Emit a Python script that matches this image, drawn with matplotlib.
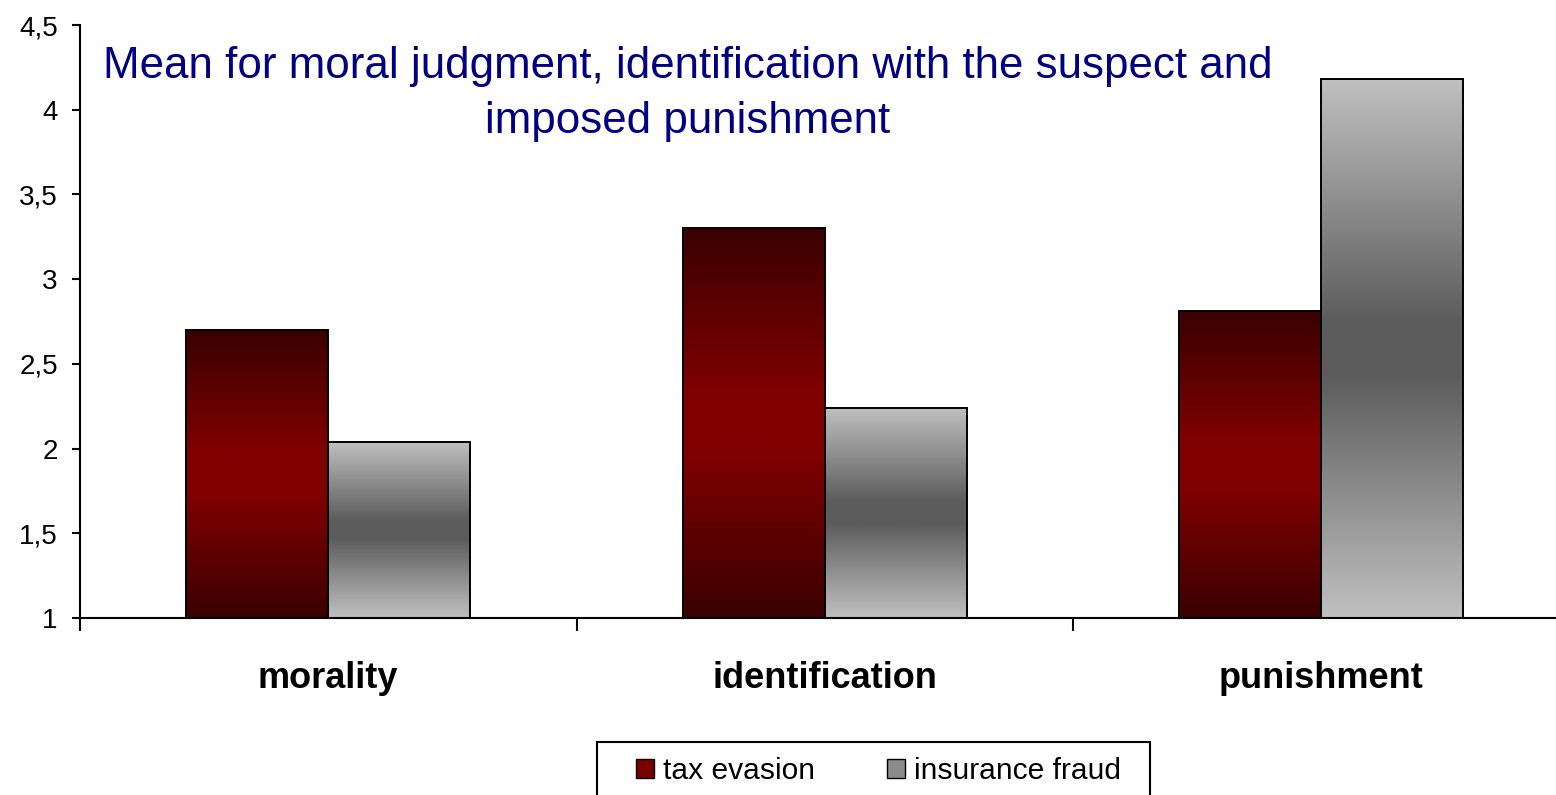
import numpy as np
import matplotlib.pyplot as plt
from matplotlib.colors import LinearSegmentedColormap
from matplotlib.patches import Patch, Rectangle
from matplotlib.ticker import FuncFormatter

categories = ["morality", "identification", "punishment"]
tax_evasion = [2.70, 3.30, 2.81]
insurance_fraud = [2.04, 2.24, 4.18]
series_names = ["tax evasion", "insurance fraud"]
y_ticks = [1, 1.5, 2, 2.5, 3, 3.5, 4, 4.5]
title = "Mean for moral judgment, identification with the suspect and\nimposed punishment"

plt.rcParams["font.family"] = ["Liberation Sans", "DejaVu Sans"]

# excel style "horizontal, centre" gradients
red_cmap = LinearSegmentedColormap.from_list(
    "red_grad", [(0, "#3a0000"), (0.42, "#800000"), (0.58, "#800000"), (1, "#3a0000")])
grey_cmap = LinearSegmentedColormap.from_list(
    "grey_grad", [(0, "#c0c0c0"), (0.45, "#5c5c5c"), (0.55, "#5c5c5c"), (1, "#c0c0c0")])
grad = np.linspace(0, 1, 256).reshape(-1, 1)

fig = plt.figure(figsize=(15.56, 7.95), dpi=100)
ax = fig.add_axes([80 / 1556, 1 - 618 / 795, 1489.5 / 1556, 593 / 795])

x = np.arange(len(categories)) + 0.5
w = 0.286
for vals, cmap, off in ((tax_evasion, red_cmap, -w), (insurance_fraud, grey_cmap, 0)):
    bars = ax.bar(x + off, np.array(vals) - 1, width=w, bottom=1, align="edge",
                  facecolor="none", edgecolor="black", linewidth=1.4, zorder=3)
    for b in bars:
        ax.imshow(grad, cmap=cmap, aspect="auto", zorder=2, interpolation="bilinear",
                  extent=[b.get_x(), b.get_x() + b.get_width(),
                          b.get_y(), b.get_y() + b.get_height()])

ax.set_xlim(0, 3)
ax.set_ylim(1, 4.5)

ax.spines[["top", "right"]].set_visible(False)
ax.spines[["left", "bottom"]].set_linewidth(1.5)

ax.set_yticks(y_ticks)
ax.yaxis.set_major_formatter(FuncFormatter(lambda v, p: f"{v:g}".replace(".", ",")))
ax.tick_params(axis="y", length=6, width=1.5, pad=10, labelsize=20)

ax.set_xticks([0, 1, 2, 3])
ax.set_xticklabels([])
ax.set_xticks(x, minor=True)
ax.set_xticklabels(categories, minor=True, fontsize=26, fontweight="bold")
ax.tick_params(axis="x", which="major", length=9, width=1.5)
ax.tick_params(axis="x", which="minor", length=0, pad=31)

fig.text(688 / 1556, 1 - 94 / 795, title, ha="center", va="center",
         color="#000080", fontsize=31.6, linespacing=1.42)

handles = [Patch(facecolor="#7a0000", edgecolor="black"),
           Patch(facecolor="#8c8c8c", edgecolor="black")]
fig.legend(handles, series_names, loc="center left",
           bbox_to_anchor=(636 / 1556, 1 - 771 / 795), ncol=2, frameon=False,
           handlelength=0.6, handleheight=0.6, handletextpad=0.3,
           columnspacing=2.4, fontsize=21.6, borderpad=0, borderaxespad=0)
fig.add_artist(Rectangle((597 / 1556, -0.05), (1150 - 597) / 1556, 0.05 + 53 / 795,
                         transform=fig.transFigure, fill=False,
                         edgecolor="black", linewidth=1.5))

fig.savefig("out.png", dpi=100)
